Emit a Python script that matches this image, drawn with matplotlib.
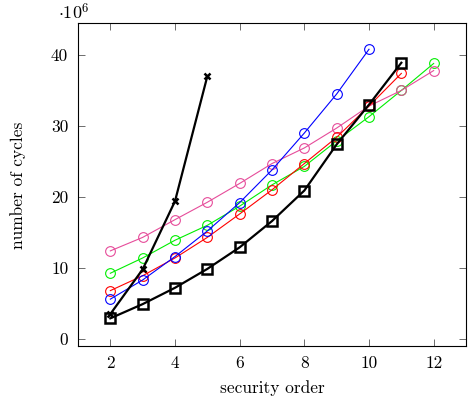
import matplotlib
matplotlib.use("Agg")
import matplotlib.pyplot as plt

plt.rcParams['font.family'] = 'serif'
plt.rcParams['font.serif'] = ['cmr10']
plt.rcParams['mathtext.fontset'] = 'cm'
plt.rcParams['axes.unicode_minus'] = False

# values in millions of cycles
orders_blue = [2, 3, 4, 5, 6, 7, 8, 9, 10]
blue = [5.6, 8.3, 11.6, 15.2, 19.2, 23.8, 29.0, 34.5, 40.8]

orders_red = [2, 3, 4, 5, 6, 7, 8, 9, 10, 11]
red = [6.8, 8.9, 11.4, 14.3, 17.6, 21.0, 24.7, 28.4, 32.8, 37.4]

orders_green = [2, 3, 4, 5, 6, 7, 8, 9, 10, 11, 12]
green = [9.25, 11.4, 13.9, 16.0, 18.7, 21.7, 24.3, 27.9, 31.3, 35.0, 38.8]

orders_pink = [2, 3, 4, 5, 6, 7, 8, 9, 10, 11, 12]
pink = [12.4, 14.3, 16.8, 19.25, 21.9, 24.7, 26.9, 29.7, 32.8, 35.0, 37.8]

orders_cross = [2, 3, 4, 5]
cross = [3.5, 9.8, 19.4, 37.0]

orders_square = [2, 3, 4, 5, 6, 7, 8, 9, 10, 11]
square = [2.9, 4.9, 7.2, 9.86, 12.9, 16.6, 20.9, 27.4, 33.0, 38.9]

fig = plt.figure(figsize=(4.72, 3.98), dpi=100)
ax = fig.add_axes([78 / 472, 52 / 398, 388 / 472, 323 / 398])

circ = dict(marker='o', markersize=7, markerfacecolor='none', linewidth=0.8, markeredgewidth=0.8)
ax.plot(orders_green, green, color='#00ee00', **circ)
ax.plot(orders_pink, pink, color='#e64c9a', **circ)
ax.plot(orders_red, red, color='#ff0000', **circ)
ax.plot(orders_blue, blue, color='#0000ff', **circ)
ax.plot(orders_cross, cross, color='black', marker='x', markersize=4.5, markeredgewidth=1.8, linewidth=1.6)
ax.plot(orders_square, square, color='black', marker='s', markersize=6.5, markerfacecolor='none',
        markeredgewidth=1.8, linewidth=1.6)

ax.set_xlim(1, 13)
ax.set_ylim(-1, 44.5)
ax.set_xticks([2, 4, 6, 8, 10, 12])
ax.set_yticks([0, 10, 20, 30, 40])
ax.tick_params(direction='in', top=True, right=True, labelsize=12.5, length=5, width=0.6, pad=7, color='#555555')
for s in ax.spines.values():
    s.set_linewidth(0.8)

fig.text(272 / 472, 1 - 388 / 398, 'security order', fontsize=12.5, ha='center', va='center')
fig.text(18 / 472, 1 - 185 / 398, 'number of cycles', fontsize=12.5, ha='center', va='center', rotation=90)
fig.text(58 / 472, 1 - 12 / 398, r'$\cdot 10^6$', fontsize=13, va='center', ha='left')

fig.savefig('out.png', dpi=100)
